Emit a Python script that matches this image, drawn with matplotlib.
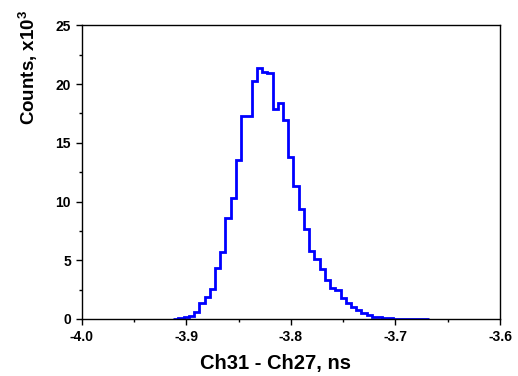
import matplotlib
matplotlib.use("Agg")
import matplotlib.pyplot as plt
import numpy as np

plt.rcParams['font.family'] = ['Liberation Sans', 'DejaVu Sans']
plt.rcParams['mathtext.fontset'] = 'custom'
plt.rcParams['mathtext.rm'] = 'Liberation Sans:bold'
plt.rcParams['mathtext.bf'] = 'Liberation Sans:bold'

# histogram bin edges (ns) and counts (x10^3)
bin_start = -3.9125
bin_width = 0.005
counts = [
    0.02, 0.08, 0.17, 0.28, 0.62, 1.33, 1.84, 2.52, 4.33, 5.67,
    8.6, 10.3, 13.5, 17.3, 17.3, 20.3, 21.35, 21.0, 20.9, 17.9,
    18.4, 16.9, 13.8, 11.3, 9.4, 7.7, 5.8, 5.1, 4.25, 3.35,
    2.6, 2.5, 1.75, 1.35, 1.0, 0.75, 0.48, 0.37, 0.17, 0.17,
    0.1, 0.05, 0.04, 0.03, 0.02, 0.02, 0.01, 0.01, 0.01,
]
edges = bin_start + bin_width * np.arange(len(counts) + 1)

xticks = [-4.0, -3.9, -3.8, -3.7, -3.6]
xtick_labels = ['-4.0', '-3.9', '-3.8', '-3.7', '-3.6']
yticks = [0, 5, 10, 15, 20, 25]

fig = plt.figure(figsize=(5.18, 3.76), dpi=100)
ax = fig.add_axes([0.1577, 0.1516, 0.9653 - 0.1577, 0.9327 - 0.1516])

ax.stairs(counts, edges, color='#0000ff', linewidth=2.0, baseline=None)

ax.set_xlim(-4.0, -3.6)
ax.set_ylim(0, 25)
ax.set_xticks(xticks)
ax.set_xticklabels(xtick_labels)
ax.set_yticks(yticks)
ax.set_xticks(np.arange(-3.95, -3.6, 0.1), minor=True)
ax.set_yticks(np.arange(2.5, 25, 5), minor=True)

ax.tick_params(axis='both', which='major', direction='out', length=4.2, width=1,
               labelsize=10, top=False, right=False)
ax.tick_params(axis='both', which='minor', direction='out', length=2.3, width=1,
               top=False, right=False)
for lab in ax.get_xticklabels() + ax.get_yticklabels():
    lab.set_fontweight('bold')
for s in ax.spines.values():
    s.set_linewidth(1.0)

ax.set_xlabel('Ch31 - Ch27, ns', fontsize=14.5, fontweight='bold')
ax.xaxis.set_label_coords(0.4636, -0.118)
ax.set_ylabel(r'Counts, x10$^{3}$', fontsize=13.5, fontweight='bold', loc='top')
ax.yaxis.set_label_coords(-0.1, 1.052)

fig.savefig('out.png', dpi=100)
